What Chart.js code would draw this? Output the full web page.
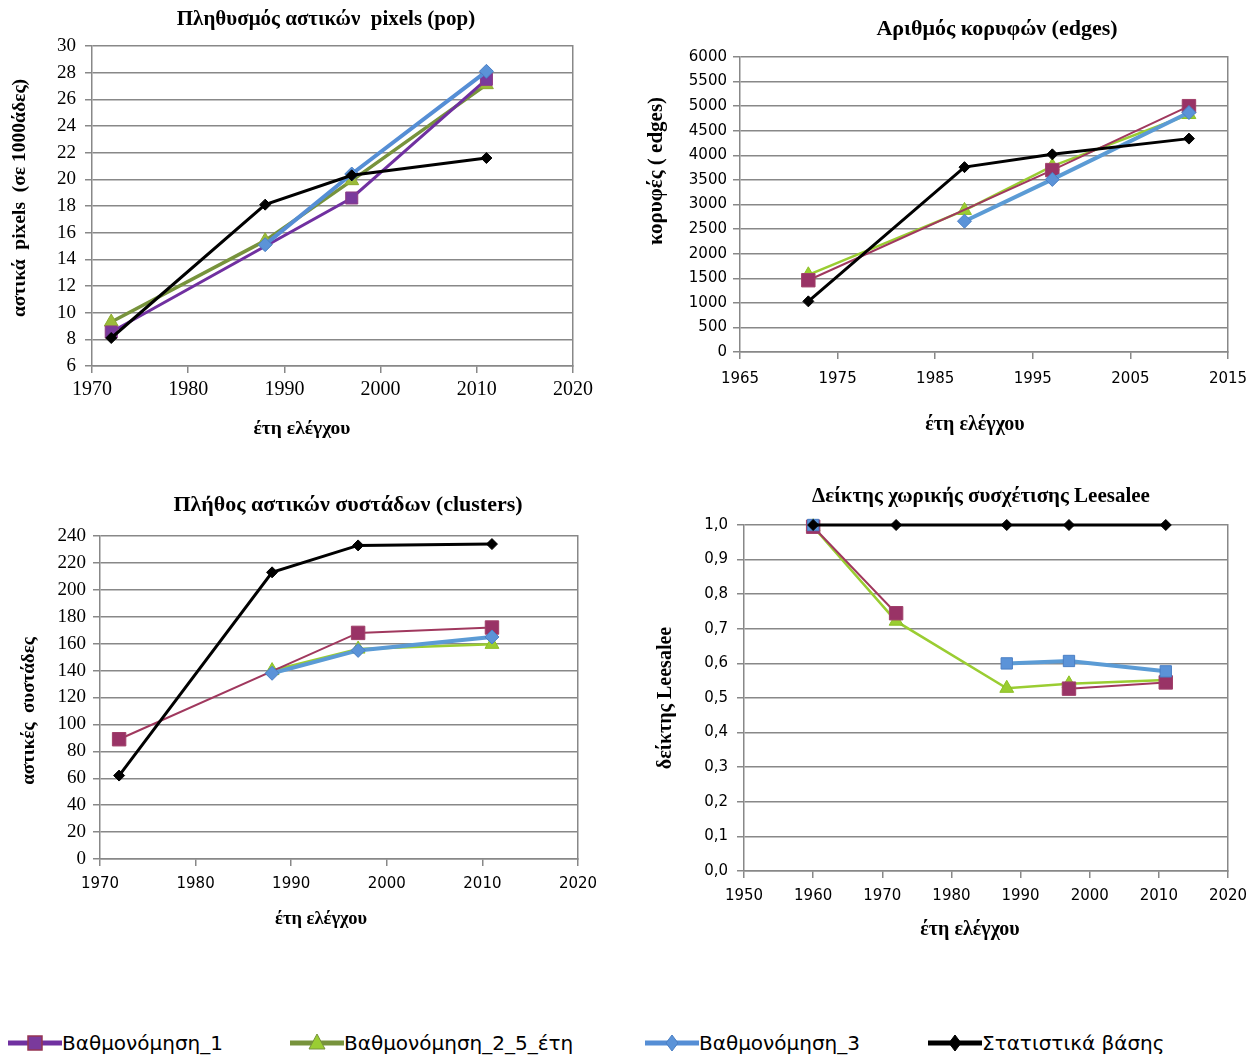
<!DOCTYPE html>
<html>
<head>
<meta charset="utf-8">
<script src="https://cdn.jsdelivr.net/npm/chart.js@4.4.0/dist/chart.umd.min.js"></script>
<style>
    body { margin: 0; background: #fff; }
    #page { position: relative; width: 1260px; height: 1057px; overflow: hidden; background: #fff; }
    canvas { position: absolute; }
    #legend { position: absolute; left: 0; top: 1029px; width: 1260px; height: 28px; }
    .item { position: absolute; top: 0; height: 28px; display: flex; align-items: center;
            font: 20px 'DejaVu Sans', sans-serif; color: #000; white-space: nowrap; }
    .item svg { display: block; }
</style>
</head>
<body>
<div id="page">
    <canvas id="c-pop" width="620" height="450" style="left:0;top:0"></canvas>
    <canvas id="c-edges" width="630" height="450" style="left:630px;top:0"></canvas>
    <canvas id="c-clusters" width="620" height="480" style="left:0;top:470px"></canvas>
    <canvas id="c-lee" width="630" height="480" style="left:630px;top:470px"></canvas>
    <div id="legend"></div>
</div>
<script>
// Data
const years = [1972, 1988, 1997, 2011];
const leeYears = [1960, 1972, 1988, 1997, 2011];
const seriesNames = ['Βαθμονόμηση_1', 'Βαθμονόμηση_2_5_έτη', 'Βαθμονόμηση_3', 'Στατιστικά βάσης'];

// Πληθυσμός αστικών pixels (σε 1000άδες)
const popCal1 = [8.55, null, 18.6, 27.5];
const popCal2 = [9.3, 15.4, 19.9, 27.1];
const popCal3 = [null, 15.1, 20.4, 28.1];
const popBase = [8.1, 18.1, 20.3, 21.6];

// Αριθμός κορυφών (edges)
const edgesCal1 = [1460, null, 3700, 5000];
const edgesCal2 = [1570, 2880, 3780, 4830];
const edgesCal3 = [null, 2660, 3510, 4870];
const edgesBase = [1030, 3760, 4020, 4340];

// Πλήθος αστικών συστάδων (clusters)
const clustCal1 = [89, null, 168, 172];
const clustCal2 = [null, 140, 156, 159.5];
const clustCal3 = [null, 138, 155, 165];
const clustBase = [62, 213, 233, 234];

// Δείκτης Leesalee
const leeCal1 = [0.995, 0.745, null, 0.527, 0.545];
const leeCal2 = [0.995, 0.722, 0.528, 0.541, 0.552];
const leeCal3 = [1.0, null, 0.600, 0.607, 0.577];
const leeBase = [1, 1, 1, 1, 1];

const SERIF = "'Liberation Serif', 'Times New Roman', serif";
const SANS = "'DejaVu Sans', Verdana, sans-serif";
const GREY = '#888888';

Chart.defaults.font.family = SERIF;
Chart.defaults.color = '#000';

// line styles: first chart uses purple / olive, the other three maroon / yellow-green
const popStyles = [
    { line: '#7030A0', fill: '#7A3A9C', border: '#8E3C86', width: 3, shape: 'rect', r: 8.5, order: 2 },
    { line: '#77933C', fill: '#9BBB3A', border: '#8CAA2E', width: 3.5, shape: 'triangle', r: 8, order: 3 },
    { line: '#558ED5', fill: '#5B93D8', border: '#4A7FC4', width: 4, shape: 'rectRot', r: 7, order: 1 },
    { line: '#000000', fill: '#000000', border: '#000000', width: 3, shape: 'rectRot', r: 5.5, order: 0 }
];
const otherStyles = [
    { line: '#A0385E', fill: '#993366', border: '#A0406A', width: 2, shape: 'rect', r: 9.5, order: 2 },
    { line: '#9ACD32', fill: '#9ACD32', border: '#8CBF26', width: 2.5, shape: 'triangle', r: 8, order: 3 },
    { line: '#5B9BD5', fill: '#5B93D8', border: '#4A7FC4', width: 4, shape: 'rectRot', r: 7, order: 1 },
    { line: '#000000', fill: '#000000', border: '#000000', width: 3, shape: 'rectRot', r: 5.5, order: 0 }
];
// Leesalee chart: blue series has square markers
const leeStyles = otherStyles.map((s, i) => i === 2 ? Object.assign({}, s, { shape: 'rect', r: 8 }) : s);

const toPoints = (xs, ys) => xs.map((x, i) => ({ x: x, y: ys[i] }));

function dataset(i, xs, ys, styles, spanGaps) {
    const st = styles[i];
    return {
        label: seriesNames[i],
        data: toPoints(xs, ys),
        yAxisID: 'y',
        borderColor: st.line,
        backgroundColor: st.fill,
        borderWidth: st.width,
        pointStyle: st.shape,
        pointRadius: st.r,
        pointHoverRadius: st.r,
        pointBackgroundColor: st.fill,
        pointBorderColor: st.border,
        pointBorderWidth: 1,
        order: st.order,
        spanGaps: spanGaps,
        clip: false,
        tension: 0
    };
}

// centre the main title where the reference has it
const titleShift = {
    id: 'titleShift',
    afterLayout(chart, args, opts) {
        const t = chart.titleBlock;
        if (!t || opts.center == null) return;
        t.left = opts.center - 300;
        t.right = opts.center + 300;
        t.width = 600;
    }
};

// axis titles, placed freely like in the spreadsheet original
const axisTitles = {
    id: 'axisTitles',
    afterDraw(chart, args, opts) {
        const ctx = chart.ctx;
        (opts.items || []).forEach(it => {
            ctx.save();
            ctx.font = it.font;
            ctx.fillStyle = '#000';
            ctx.textAlign = 'center';
            ctx.textBaseline = 'middle';
            ctx.translate(it.x, it.y);
            if (it.rotate) ctx.rotate(-Math.PI / 2);
            ctx.fillText(it.text, 0, 0);
            ctx.restore();
        });
    }
};

function makeChart(id, o) {
    const canvas = document.getElementById(id);
    return new Chart(canvas.getContext('2d'), {
        type: 'line',
        data: { datasets: o.datasets },
        plugins: [titleShift, axisTitles],
        options: {
            responsive: false,
            animation: false,
            events: [],
            layout: { padding: { left: 0, top: 0, bottom: 0, right: o.padRight } },
            plugins: {
                legend: { display: false },
                tooltip: { enabled: false },
                title: {
                    display: true,
                    text: o.title,
                    color: '#000',
                    font: { family: SERIF, size: o.titleSize, weight: 'bold' },
                    padding: o.titlePad
                },
                titleShift: { center: o.titleCenter },
                axisTitles: { items: o.axisTitles }
            },
            scales: {
                x: {
                    type: 'linear',
                    min: o.xMin, max: o.xMax,
                    ticks: {
                        stepSize: o.xStep, autoSkip: false, maxRotation: 0,
                        font: o.xFont, color: '#000', padding: o.xPad,
                        callback: v => String(v)
                    },
                    grid: { drawOnChartArea: false, color: GREY, lineWidth: 1.5, tickLength: 7 },
                    border: { color: GREY, width: 1.5 },
                    afterFit: s => { s.height = o.xHeight; }
                },
                y: {
                    type: 'linear',
                    min: o.yMin, max: o.yMax,
                    ticks: {
                        stepSize: o.yStep, autoSkip: false, font: o.yFont, color: '#000', padding: o.yPad,
                        callback: o.yFormat
                    },
                    grid: { color: GREY, lineWidth: 1.5, tickLength: 7 },
                    border: { color: GREY, width: 1.5 },
                    afterFit: s => { s.width = o.yWidth; }
                },
                frame: {
                    type: 'linear',
                    position: 'right',
                    ticks: { display: false },
                    grid: { display: false },
                    border: { color: GREY, width: 1.5 },
                    afterFit: s => { s.width = 0; }
                }
            }
        }
    });
}

const intFmt = v => String(v);
const commaFmt = v => v.toFixed(1).replace('.', ',');

makeChart('c-pop', {
    title: 'Πληθυσμός αστικών  pixels (pop)', titleSize: 21, titlePad: { top: 7.4, bottom: 13.4 }, titleCenter: 326,
    datasets: [
        dataset(0, years, popCal1, popStyles, true),
        dataset(1, years, popCal2, popStyles, true),
        dataset(2, years, popCal3, popStyles, true),
        dataset(3, years, popBase, popStyles, true)
    ],
    xMin: 1970, xMax: 2020, xStep: 10, xFont: { family: SERIF, size: 20 }, xPad: 5, xHeight: 84,
    yMin: 6, yMax: 30, yStep: 2, yFont: { family: SERIF, size: 19 }, yPad: 9, yWidth: 92, yFormat: intFmt,
    padRight: 47,
    axisTitles: [
        { text: 'αστικά  pixels  (σε 1000άδες)', x: 20, y: 198, rotate: true, font: 'bold 19.5px ' + SERIF },
        { text: 'έτη ελέγχου', x: 302, y: 429, font: 'bold 19.5px ' + SERIF }
    ]
});

makeChart('c-edges', {
    title: 'Αριθμός κορυφών (edges)', titleSize: 22, titlePad: { top: 16, bottom: 14.6 }, titleCenter: 367,
    datasets: [
        dataset(0, years, edgesCal1, otherStyles, true),
        dataset(1, years, edgesCal2, otherStyles, true),
        dataset(2, years, edgesCal3, otherStyles, true),
        dataset(3, years, edgesBase, otherStyles, true)
    ],
    xMin: 1965, xMax: 2015, xStep: 10, xFont: { family: SANS, size: 15 }, xPad: 11, xHeight: 98,
    yMin: 0, yMax: 6000, yStep: 500, yFont: { family: SANS, size: 15 }, yPad: 6, yWidth: 110, yFormat: intFmt,
    padRight: 32,
    axisTitles: [
        { text: 'κορυφές ( edges)', x: 27, y: 171, rotate: true, font: 'bold 21px ' + SERIF },
        { text: 'έτη ελέγχου', x: 345, y: 425, font: 'bold 20px ' + SERIF }
    ]
});

makeChart('c-clusters', {
    title: 'Πλήθος αστικών συστάδων (clusters)', titleSize: 22, titlePad: { top: 22, bottom: 17.6 }, titleCenter: 348,
    datasets: [
        dataset(0, years, clustCal1, otherStyles, true),
        dataset(1, years, clustCal2, otherStyles, true),
        dataset(2, years, clustCal3, otherStyles, true),
        dataset(3, years, clustBase, otherStyles, true)
    ],
    xMin: 1970, xMax: 2020, xStep: 10, xFont: { family: SANS, size: 15 }, xPad: 9, xHeight: 91,
    yMin: 0, yMax: 240, yStep: 20, yFont: { family: SERIF, size: 19 }, yPad: 7, yWidth: 100, yFormat: intFmt,
    padRight: 42,
    axisTitles: [
        { text: 'αστικές  συστάδες', x: 29, y: 241, rotate: true, font: 'bold 19px ' + SERIF },
        { text: 'έτη ελέγχου', x: 321, y: 449, font: 'bold 18.5px ' + SERIF }
    ]
});

makeChart('c-lee', {
    title: 'Δείκτης χωρικής συσχέτισης Leesalee', titleSize: 21, titlePad: { top: 14.4, bottom: 15.4 }, titleCenter: 351,
    datasets: [
        dataset(0, leeYears, leeCal1, leeStyles, false),
        dataset(1, leeYears, leeCal2, leeStyles, false),
        dataset(2, leeYears, leeCal3, leeStyles, false),
        dataset(3, leeYears, leeBase, leeStyles, false)
    ],
    xMin: 1950, xMax: 2020, xStep: 10, xFont: { family: SANS, size: 15 }, xPad: 9, xHeight: 79,
    yMin: 0, yMax: 1, yStep: 0.1, yFont: { family: SANS, size: 15 }, yPad: 9, yWidth: 114, yFormat: commaFmt,
    padRight: 32,
    axisTitles: [
        { text: 'δείκτης Leesalee', x: 36, y: 228, rotate: true, font: 'bold 20px ' + SERIF },
        { text: 'έτη ελέγχου', x: 340, y: 460, font: 'bold 20px ' + SERIF }
    ]
});

// Shared legend under the four charts
const legendStyles = [
    { line: '#7030A0', fill: '#7A3A9C', border: '#953553', shape: 'rect' },
    { line: '#77933C', fill: '#9ACD32', border: '#77933C', shape: 'triangle' },
    { line: '#558ED5', fill: '#5B93D8', border: '#4A7FC4', shape: 'diamond' },
    { line: '#000000', fill: '#000000', border: '#000000', shape: 'diamond' }
];
const legendLeft = [8, 290, 645, 928];

function markerSvg(st) {
    let mark;
    if (st.shape === 'rect') {
        mark = '<rect x="20" y="6" width="14" height="14" fill="' + st.fill + '" stroke="' + st.border + '" stroke-width="1.5"/>';
    } else if (st.shape === 'triangle') {
        mark = '<polygon points="27,4 35,19 19,19" fill="' + st.fill + '" stroke="' + st.border + '" stroke-width="1"/>';
    } else {
        mark = '<polygon points="27,5 33,13 27,21 21,13" fill="' + st.fill + '" stroke="' + st.border + '" stroke-width="1"/>';
    }
    return '<svg width="54" height="26" viewBox="0 0 54 26">' +
        '<line x1="0" y1="13" x2="54" y2="13" stroke="' + st.line + '" stroke-width="5"/>' + mark + '</svg>';
}

const legend = document.getElementById('legend');
seriesNames.forEach((name, i) => {
    const item = document.createElement('div');
    item.className = 'item';
    item.style.left = legendLeft[i] + 'px';
    item.innerHTML = markerSvg(legendStyles[i]) + '<span>' + name + '</span>';
    legend.appendChild(item);
});
</script>
</body>
</html>
